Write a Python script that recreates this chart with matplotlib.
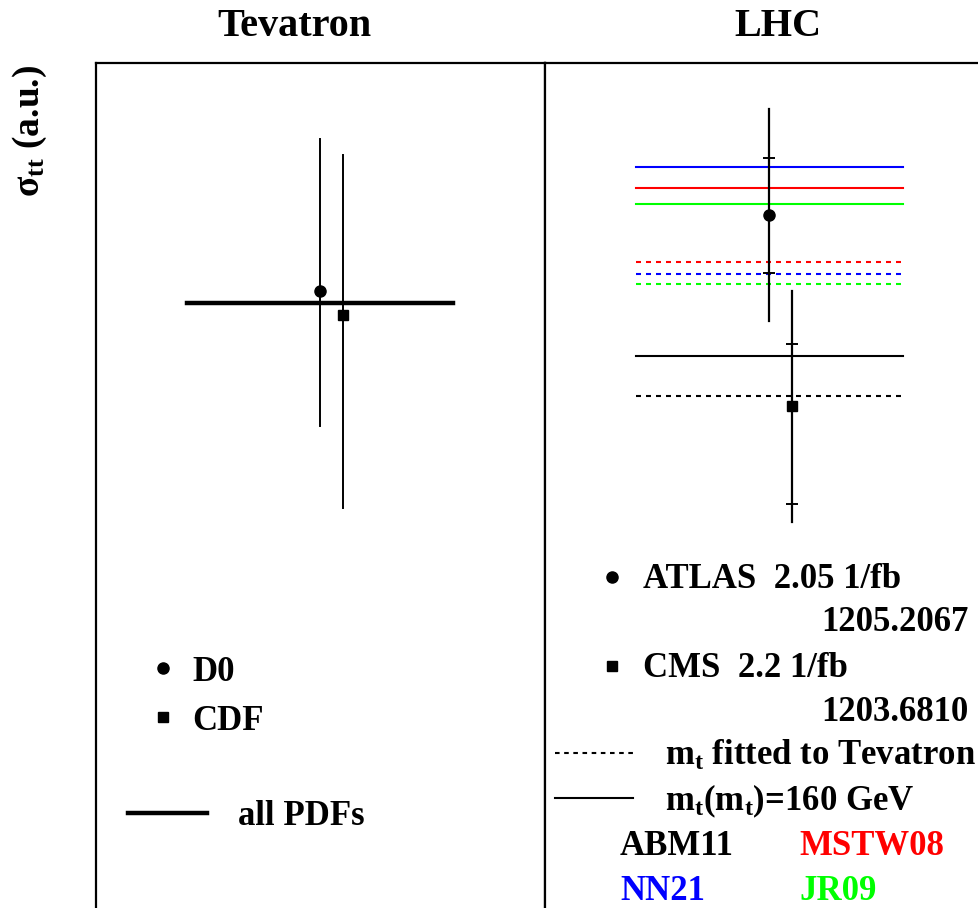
import matplotlib
matplotlib.use("Agg")
import matplotlib.pyplot as plt
from matplotlib.transforms import blended_transform_factory

plt.rcParams['font.family'] = ['Liberation Serif', 'DejaVu Serif']
plt.rcParams['font.weight'] = 'bold'
plt.rcParams['mathtext.fontset'] = 'custom'
plt.rcParams['mathtext.rm'] = 'Liberation Serif:bold'
plt.rcParams['mathtext.it'] = 'Liberation Serif:bold'
plt.rcParams['mathtext.bf'] = 'Liberation Serif:bold'
plt.rcParams['mathtext.default'] = 'rm'

# Tevatron measurements (a.u.): central, low, high
tev_names = ['D0', 'CDF']
tev_x = [0.50, 0.55]
tev_val = [73.0, 70.2]
tev_lo = [57.0, 47.3]
tev_hi = [91.0, 89.1]
tev_markers = ['o', 's']
tev_pdf_all = 71.6

# LHC measurements (a.u.): central, outer and inner error bands
lhc_names = ['ATLAS  2.05 1/fb', 'CMS  2.2 1/fb']
lhc_refs = ['1205.2067', '1203.6810']
lhc_x = [0.50, 0.55]
lhc_val = [82.0, 59.4]
lhc_lo = [69.5, 45.7]
lhc_hi = [94.6, 73.0]
lhc_in_lo = [75.1, 47.8]
lhc_in_hi = [88.8, 66.7]
lhc_markers = ['o', 's']

# theory predictions at LHC for each PDF set
pdf_names = ['ABM11', 'MSTW08', 'NN21', 'JR09']
pdf_colors = ['black', 'red', 'blue', '#00ff00']
pred_mt160 = [65.3, 85.2, 87.7, 83.3]     # m_t(m_t)=160 GeV
pred_mtfit = [60.6, 76.5, 75.0, 73.8]     # m_t fitted to Tevatron

fig = plt.figure(figsize=(9.79, 9.08), dpi=100)
axL = fig.add_axes([96 / 979, 0, 449 / 979, 845 / 908])
axR = fig.add_axes([545 / 979, 0, 449 / 979, 845 / 908])

for ax in (axL, axR):
    ax.set_xlim(0, 1)
    ax.set_ylim(0, 100)
    ax.set_xticks([])
    ax.set_yticks([])
    ax.spines['bottom'].set_visible(False)
    for s in ('top', 'left', 'right'):
        ax.spines[s].set_linewidth(1.6)

# ---- Tevatron panel
axL.plot([0.202, 0.795], [tev_pdf_all, tev_pdf_all], color='black', lw=3.2)
for i in range(len(tev_names)):
    axL.plot([tev_x[i], tev_x[i]], [tev_lo[i], tev_hi[i]], color='black', lw=1.4)
    axL.plot(tev_x[i], tev_val[i], marker=tev_markers[i], color='black',
             ms=8 if tev_markers[i] == 'o' else 7, ls='none')

trL = blended_transform_factory(axL.transAxes, axL.transData)
leg_y_tev = [28.4, 22.6]
for i in range(len(tev_names)):
    axL.plot(0.149, leg_y_tev[i], marker=tev_markers[i], color='black',
             ms=8 if tev_markers[i] == 'o' else 7, transform=trL, clip_on=False)
    axL.text(0.215, leg_y_tev[i] - 1.5, tev_names[i], transform=trL,
             fontsize=25, va='baseline', ha='left')
axL.plot([0.071, 0.247], [11.3, 11.3], color='black', lw=3.2, transform=trL)
axL.text(0.316, 9.8, 'all PDFs', transform=trL, fontsize=25, va='baseline')

# ---- LHC panel
for i in range(len(pdf_names)):
    axR.plot([0.203, 0.798], [pred_mt160[i]] * 2, color=pdf_colors[i], lw=1.5)
    axR.plot([0.203, 0.798], [pred_mtfit[i]] * 2, color=pdf_colors[i], lw=1.5,
             ls=(0, (2.4, 2.4)))
for i in range(len(lhc_names)):
    axR.plot([lhc_x[i], lhc_x[i]], [lhc_lo[i], lhc_hi[i]], color='black', lw=1.6)
    axR.plot([lhc_x[i], lhc_x[i]], [lhc_in_lo[i], lhc_in_hi[i]], color='black',
             ls='none', marker='_', ms=8, mew=1.4)
    axR.plot(lhc_x[i], lhc_val[i], marker=lhc_markers[i], color='black',
             ms=8 if lhc_markers[i] == 'o' else 7.5, ls='none')

trR = blended_transform_factory(axR.transAxes, axR.transData)
leg_y_lhc = [39.2, 28.6]
ref_y = [32.8, 22.1]
for i in range(len(lhc_names)):
    axR.plot(0.150, leg_y_lhc[i], marker=lhc_markers[i], color='black',
             ms=8 if lhc_markers[i] == 'o' else 7, transform=trR, clip_on=False)
    axR.text(0.219, leg_y_lhc[i] - 1.3, lhc_names[i], transform=trR,
             fontsize=25, va='baseline')
    axR.text(0.943, ref_y[i], lhc_refs[i], transform=trR, fontsize=25,
             va='baseline', ha='right')
axR.plot([0.022, 0.196], [18.3, 18.3], color='black', lw=1.5, ls=(0, (2.2, 2.2)),
         transform=trR)
axR.text(0.267, 16.9, r'm$_{t}$ fitted to Tevatron', transform=trR,
         fontsize=25, va='baseline')
axR.plot([0.022, 0.196], [13.0, 13.0], color='black', lw=1.5, transform=trR)
axR.text(0.267, 11.6, r'm$_{t}$(m$_{t}$)=160 GeV', transform=trR,
         fontsize=25, va='baseline')

pdf_lx = [0.167, 0.566, 0.167, 0.566]
pdf_ly = [6.27, 6.27, 0.95, 0.95]
for i in range(len(pdf_names)):
    axR.text(pdf_lx[i], pdf_ly[i], pdf_names[i], transform=trR, fontsize=25,
             va='baseline', color=pdf_colors[i])

# titles and y label
fig.text(294 / 979, 1 - 26 / 908, 'Tevatron', fontsize=29, ha='center', va='center')
fig.text(778 / 979, 1 - 26 / 908, 'LHC', fontsize=29, ha='center', va='center')
fig.text(30 / 979, 1 - 131 / 908, r'σ$_{tt}$ (a.u.)', fontsize=27,
         rotation=90, ha='center', va='center')

fig.savefig('out.png', dpi=100)
